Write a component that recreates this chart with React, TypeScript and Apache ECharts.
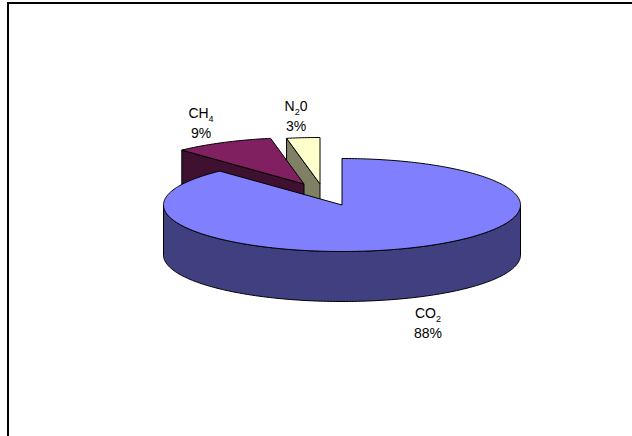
import React, { useEffect, useRef } from "react";
import * as echarts from "echarts";

// Greenhouse gas shares, in percent
const gases = ["CO2", "CH4", "N20"];
const labelHeads = ["{t|CO}{s|2}", "{t|CH}{s|4}", "{t|N}{s|2}{t|0}"];
const shares = [88, 9, 3];

// Slice styling, same order as the gases
const topColors = ["#8080FF", "#802060", "#FFFFCC"];
const wallColors = ["#404080", "#401030", "#808066"];

// Pie geometry in pixels
const rx = 178.5;
const ry = 46.5;
const depth = 50;
const apexes = [[342, 205], [304, 184], [320, 184]];
const labelAnchors = [[428, 303], [201, 103], [296, 96]];

const polar = (apex: number[], deg: number, z = 0) => {
  const a = (deg * Math.PI) / 180;
  return [apex[0] + rx * Math.sin(a), apex[1] - ry * Math.cos(a) + z];
};

const arcPoints = (apex: number[], from: number, to: number, z = 0) => {
  const pts: number[][] = [];
  const steps = Math.max(2, Math.ceil(Math.abs(to - from)));
  for (let i = 0; i <= steps; i++) pts.push(polar(apex, from + ((to - from) * i) / steps, z));
  return pts;
};

const total = shares.reduce((a, b) => a + b, 0);

const face = (points: number[][], fill: string) => ({
  type: "polygon",
  shape: { points },
  style: { fill, stroke: "#000", lineWidth: 1, lineJoin: "round" },
});

const renderSlice = (_: unknown, api: any) => {
  const i = api.value(0) as number;
  let start = 0;
  for (let k = 0; k < i; k++) start += (shares[k] / total) * 360;
  const end = start + (api.value(1) / total) * 360;
  const apex = apexes[i];
  const children: any[] = [];

  if (i === 0) {
    // Outer wall along the front half of the rim
    const front = arcPoints(apex, 90, 270);
    const frontLow = arcPoints(apex, 270, 90, depth);
    children.push(face([...front, ...frontLow], wallColors[i]));
  } else {
    // Cut face running from the rim to the slice's apex
    const rim = polar(apex, start);
    children.push(
      face([rim, apex, [apex[0], apex[1] + depth], [rim[0], rim[1] + depth]], wallColors[i]),
    );
  }
  children.push(face([apex, ...arcPoints(apex, start, end)], topColors[i]));
  return { type: "group", children };
};

export default function App() {
  const ref = useRef<HTMLDivElement>(null);

  useEffect(() => {
    document.body.style.margin = "0";
    const chart = echarts.init(ref.current!, undefined, { renderer: "svg" });

    const labels = gases.map((_, i) => ({
      type: "text",
      x: labelAnchors[i][0],
      y: labelAnchors[i][1],
      z: 10,
      style: {
        text: `${labelHeads[i]}\n{t|${shares[i]}%}`,
        align: "center",
        verticalAlign: "top",
        rich: {
          t: { fontFamily: "Liberation Sans", fontSize: 14, lineHeight: 20, fill: "#000" },
          s: {
            fontFamily: "Liberation Sans",
            fontSize: 9,
            lineHeight: 20,
            verticalAlign: "bottom",
            fill: "#000",
          },
        },
      },
    }));

    chart.setOption({
      animation: false,
      backgroundColor: "#fff",
      graphic: [
        {
          type: "line",
          shape: { x1: 7, y1: 3, x2: 632, y2: 3 },
          style: { stroke: "#000", lineWidth: 2 },
        },
        {
          type: "line",
          shape: { x1: 8, y1: 2, x2: 8, y2: 436 },
          style: { stroke: "#000", lineWidth: 2 },
        },
        ...labels,
      ],
      series: [
        {
          type: "custom",
          coordinateSystem: "none",
          renderItem: renderSlice,
          // Painted back to front: N20, CH4, then the large CO2 slice
          data: gases.map((_, i) => [i, shares[i]]).reverse(),
          silent: true,
        },
      ],
    });
    return () => chart.dispose();
  }, []);

  return <div ref={ref} style={{ width: 632, height: 436 }} />;
}
